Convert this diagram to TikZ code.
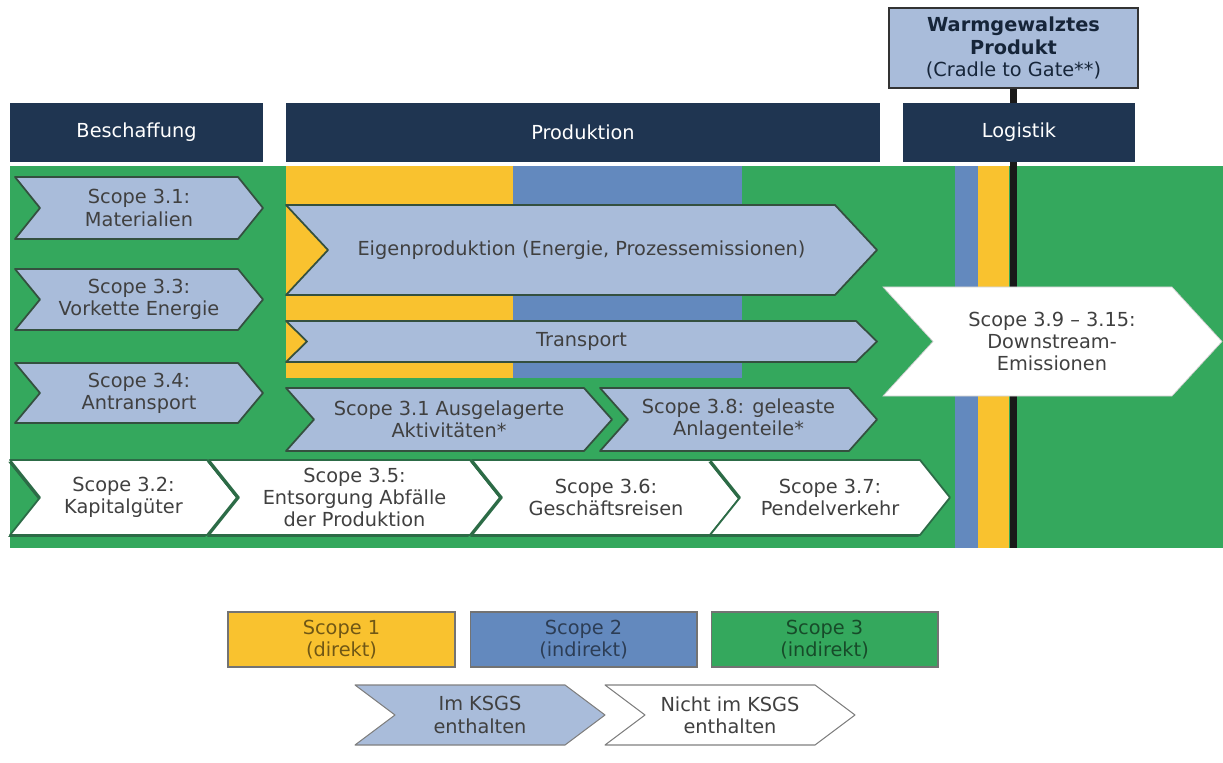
\documentclass[tikz,border=0pt]{standalone}
\usepackage{fontspec}
\setmainfont{DejaVu Sans}
\usepackage{xcolor}
\usepackage{tikz}
\usetikzlibrary{positioning,shadows}

\definecolor{navy}{HTML}{1F3551}
\definecolor{paleblue}{HTML}{A9BCDA}
\definecolor{ylw}{HTML}{F9C22F}
\definecolor{blu}{HTML}{6389BE}
\definecolor{grn}{HTML}{34A85D}
\definecolor{darkgreen}{HTML}{2C6B46}
\definecolor{edgegray}{HTML}{34503F}
\definecolor{ink}{HTML}{404040}

\begin{document}
\begin{tikzpicture}[x=0.02cm, y=-0.02cm,
    txt/.style={font=\fontsize{11}{12.6}\selectfont},
    navybar/.style={txt, fill=navy, text=white, inner sep=0pt, minimum height=1.18cm},
    prodbox/.style={txt, fill=paleblue, draw=black!80, line width=1.5pt, text=navy!70!black,
        align=center, inner sep=0pt, minimum width=4.98cm, minimum height=1.6cm},
    stem/.style={line width=3.8pt, black!90},
    inkl/.style={fill=paleblue, draw=edgegray, line width=1pt, line join=round},
    exkl/.style={fill=white, draw=darkgreen, line width=1pt, line join=round,
        drop shadow={shadow xshift=-1pt, shadow yshift=-1pt, fill=darkgreen, opacity=1}},
    downs/.style={fill=white, draw=black!20, line width=0.4pt},
    chevtext/.style={txt, text=ink, align=center},
    keybox/.style={txt, draw=black!55, line width=0.6pt, align=center, inner sep=0pt,
        minimum width=4.54cm, minimum height=1.1cm, text=black, text opacity=0.55},
    keychev/.style={draw=black!50, line width=0.6pt, line join=round}]
    \useasboundingbox (0,0) rectangle (1223,763);

    % green field with the scope 1/2 columns
    \fill[grn] (10,166) rectangle (1223,548);
    \fill[ylw] (286,166) rectangle (513,378);
    \fill[blu] (513,166) rectangle (742,378);
    \fill[blu] (955,166) rectangle (978,548);
    \fill[ylw] (978,166) rectangle (1009,548);

    % product and its gate line
    \coordinate (stemend) at (1013.5,548);
    \node[prodbox] (produkt) at (1013.5,48)
        {\textbf{Warmgewalztes}\\\textbf{Produkt}\\(Cradle to Gate**)};
    \draw[stem] (produkt.south) -- (stemend);

    % phase headers
    \node[navybar, minimum width=5.06cm] (beschaffung) at (136.5,132.5) {Beschaffung};
    \node[navybar, minimum width=11.88cm] (produktion) at (583,132.5) {Produktion};
    \node[navybar, minimum width=4.64cm] (logistik) at (1019,132.5) {Logistik};

    % chevrons inside the KSGS
    \foreach \xa/\xb/\ya/\yb/\dd/\nm/\lab in {
        15/263/177/239/25/mat/{Scope 3.1:\\Materialien},
        15/263/269/330/25/vke/{Scope 3.3:\\Vorkette Energie},
        15/263/363/423/25/ant/{Scope 3.4:\\Antransport},
        286/877/205/295/42/eigen/{Eigenproduktion (Energie, Prozessemissionen)},
        286/877/321/362/21/trans/{Transport},
        286/612/388/451/28/ausg/{Scope 3.1 Ausgelagerte\\Aktivitäten*},
        600/877/388/451/28/leas/{Scope 3.8: geleaste\\Anlagenteile*}} {
        \draw[inkl] (\xa,\ya) -- (\xb-\dd,\ya) -- (\xb,{(\ya+\yb)/2}) -- (\xb-\dd,\yb)
            -- (\xa,\yb) -- (\xa+\dd,{(\ya+\yb)/2}) -- cycle;
        \node[chevtext] (\nm) at ({(\xa+\xb)/2},{(\ya+\yb)/2}) {\lab};
    }

    % chevrons outside the KSGS
    \foreach \xa/\xb/\ya/\yb/\dd/\nm/\lab in {
        10/237/460/535/30/kap/{Scope 3.2:\\Kapitalgüter},
        209/500/460/535/30/ents/{Scope 3.5:\\Entsorgung Abfälle\\der Produktion},
        472/740/460/535/30/reis/{Scope 3.6:\\Geschäftsreisen},
        710/950/460/535/30/pend/{Scope 3.7:\\Pendelverkehr}} {
        \draw[exkl] (\xa,\ya) -- (\xb-\dd,\ya) -- (\xb,{(\ya+\yb)/2}) -- (\xb-\dd,\yb)
            -- (\xa,\yb) -- (\xa+\dd,{(\ya+\yb)/2}) -- cycle;
        \node[chevtext] (\nm) at ({(\xa+\xb)/2},{(\ya+\yb)/2}) {\lab};
    }

    % downstream
    \draw[downs] (883,287) -- (1172,287) -- (1222,341.5) -- (1172,396) -- (883,396)
        -- (933,341.5) -- cycle;
    \node[chevtext] (down) at (1052,341.5) {Scope 3.9 -- 3.15:\\Downstream-\\Emissionen};

    % legend
    \node[keybox, fill=ylw] (sc1) at (341.5,639.5) {Scope 1\\(direkt)};
    \node[keybox, fill=blu, right=0.28cm of sc1] (sc2) {Scope 2\\(indirekt)};
    \node[keybox, fill=grn, right=0.26cm of sc2] (sc3) {Scope 3\\(indirekt)};
    \foreach \xa/\fc/\nm/\lab in {355/paleblue/kin/{Im KSGS\\enthalten},
                                  605/white/kout/{Nicht im KSGS\\enthalten}} {
        \draw[keychev, fill=\fc] (\xa,685) -- (\xa+210,685) -- (\xa+250,715) -- (\xa+210,745)
            -- (\xa,745) -- (\xa+40,715) -- cycle;
        \node[chevtext] (\nm) at (\xa+125,715) {\lab};
    }
\end{tikzpicture}
\end{document}
